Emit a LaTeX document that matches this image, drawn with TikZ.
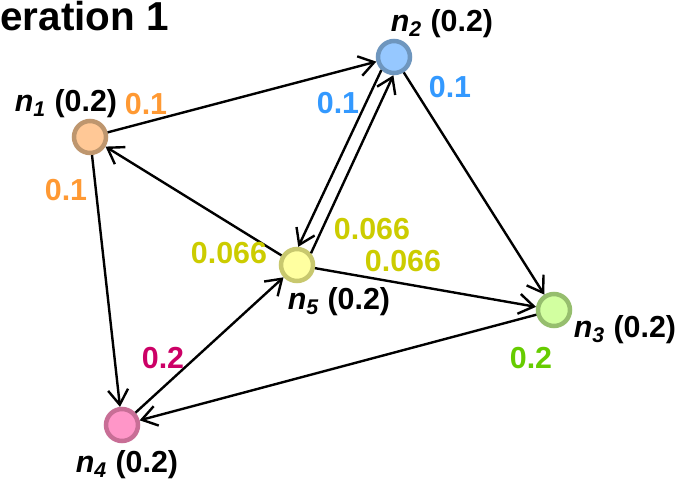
\documentclass[tikz,border=0pt]{standalone}
\usepackage{fontspec}
\setmainfont{Liberation Sans}
\usepackage{xcolor}
\usetikzlibrary{arrows.meta}
\definecolor{oneFill}{RGB}{255,200,150}
\definecolor{oneLine}{RGB}{190,150,110}
\definecolor{oneText}{RGB}{255,153,51}
\definecolor{twoFill}{RGB}{150,200,255}
\definecolor{twoLine}{RGB}{110,150,190}
\definecolor{twoText}{RGB}{51,153,255}
\definecolor{threeFill}{RGB}{210,255,160}
\definecolor{threeLine}{RGB}{150,190,110}
\definecolor{threeText}{RGB}{102,204,0}
\definecolor{fourFill}{RGB}{255,150,200}
\definecolor{fourLine}{RGB}{200,110,150}
\definecolor{fourText}{RGB}{204,0,102}
\definecolor{fiveFill}{RGB}{255,255,160}
\definecolor{fiveLine}{RGB}{200,200,110}
\definecolor{fiveText}{RGB}{204,204,0}
\newcommand{\nlab}[1]{\textit{n\textsubscript{#1}} (0.2)}

\begin{document}
\begin{tikzpicture}[
		x=0.02cm, y=-0.02cm,
		font=\bfseries\fontsize{17.3}{20}\selectfont,
		page/.style={circle, line width=0.09cm, minimum size=0.64cm, inner sep=0pt},
		lab/.style={inner sep=0pt},
		link/.style={-{Straight Barb[length=0.3cm,width=0.4cm]}, line width=0.048cm}
		]
		\useasboundingbox (0,0) rectangle (681,484);
		
		% Title
		\node[lab, anchor=base west, font=\bfseries\fontsize{23}{26}\selectfont] (title) at (0,30) {eration 1};
		
		% Pages
		\node[page, fill=oneFill, draw=oneLine] (n1) at (90,137) {};
		\node[page, fill=twoFill, draw=twoLine] (n2) at (394,57) {};
		\node[page, fill=threeFill, draw=threeLine] (n3) at (554,310) {};
		\node[page, fill=fourFill, draw=fourLine] (n4) at (122,425) {};
		\node[page, fill=fiveFill, draw=fiveLine] (n5) at (297,265) {};
		
		% Page names
		\node[lab] (l1) at (66,104) {\nlab{1}};
		\node[lab] (l2) at (442,24) {\nlab{2}};
		\node[lab] (l3) at (625,330) {\nlab{3}};
		\node[lab] (l4) at (127,465) {\nlab{4}};
		\node[lab] (l5) at (339,302) {\nlab{5}};
		
		% Links
		\draw[link] (n1) -- (n2);
		\draw[link] (n1) -- (n4);
		\draw[link] (n2) -- (n3);
		\draw[link] (n2.226) -- (n5.86);
		\draw[link] (n5.40) -- (n2.268);
		\draw[link] (n5) -- (n1);
		\draw[link] (n5) -- (n3);
		\draw[link] (n4) -- (n5);
		\draw[link] (n3) -- (n4);
		
		% Shares
		\node[lab, text=oneText] (s1a) at (146,104) {0.1};
		\node[lab, text=oneText] (s1b) at (66,190) {0.1};
		\node[lab, text=twoText] (s2a) at (338,103) {0.1};
		\node[lab, text=twoText] (s2b) at (450,87) {0.1};
		\node[lab, text=threeText] (s3) at (531,358) {0.2};
		\node[lab, text=fourText] (s4) at (163,358) {0.2};
		\node[lab, text=fiveText] (s5a) at (229,253) {0.066};
		\node[lab, text=fiveText] (s5b) at (372,229) {0.066};
		\node[lab, text=fiveText] (s5c) at (403,261) {0.066};
		
	\end{tikzpicture}
\end{document}
